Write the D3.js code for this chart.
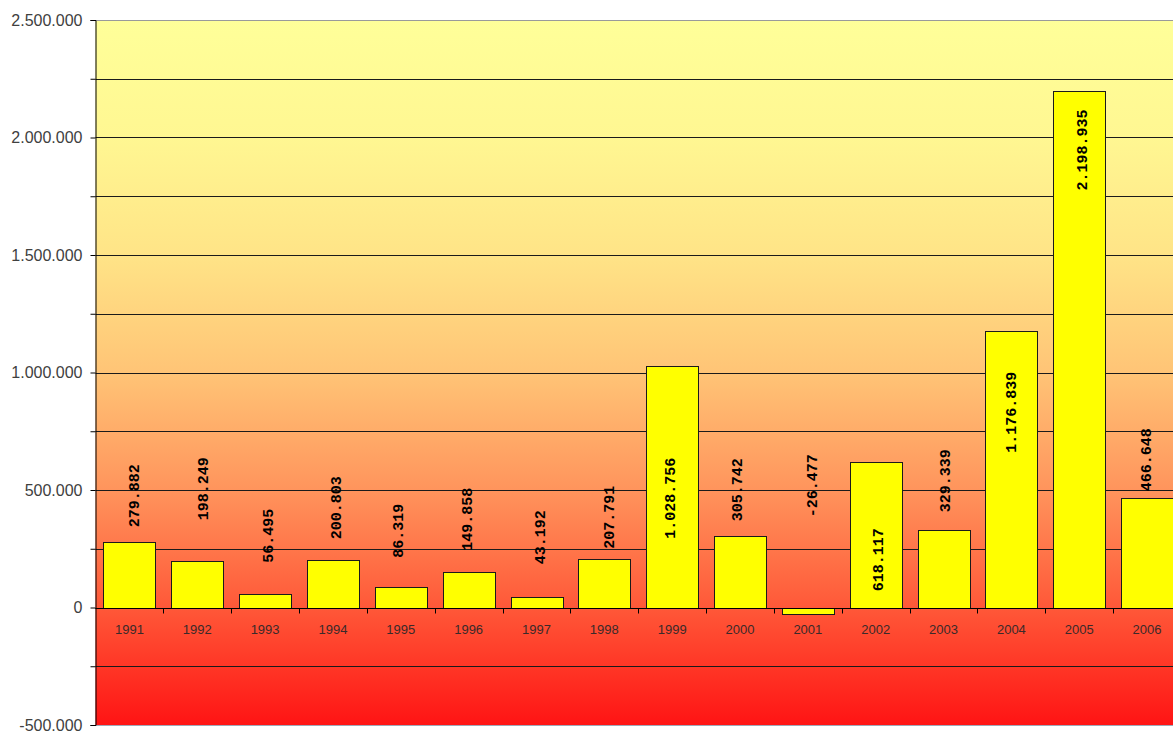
<!DOCTYPE html>
<html>
<head>
<meta charset="utf-8">
<script src="https://cdn.jsdelivr.net/npm/d3@7"></script>
<style>
  html, body { margin: 0; padding: 0; background: #ffffff; }
  svg { display: block; }
</style>
</head>
<body>
<svg id="chart" width="1173" height="731"></svg>
<script>
// Yearly values, 1991–2006
const years = ["1991", "1992", "1993", "1994", "1995", "1996", "1997", "1998",
               "1999", "2000", "2001", "2002", "2003", "2004", "2005", "2006"];
const values = [279882, 198249, 56495, 200803, 86319, 149858, 43192, 207791,
                1028756, 305742, -26477, 618117, 329339, 1176839, 2198935, 466648];
const yTicks = [-500000, -250000, 0, 250000, 500000, 750000, 1000000, 1250000,
                1500000, 1750000, 2000000, 2250000, 2500000];
const yLabelled = [-500000, 0, 500000, 1000000, 1500000, 2000000, 2500000];

// Where each value label sits (in value units along the y axis) and a small sideways nudge in px
const labelAnchor = [475700, 505500, 305000, 424600, 326700, 375600, 299000, 384000,
                     465000, 501000, 518000, 203000, 539600, 831000, 1947000, 629000];
const labelNudge = [4.5, 6, 3, 3, -2.5, -1.5, 3.8, 5, -2, -2.7, 4.5, 2.7, 2, 0, 2.5, -1];

const locale = d3.formatLocale({ decimal: ",", thousands: ".", grouping: [3],
                                 currency: ["", ""], minus: "-" });
const fmt = locale.format(",d");

const svg = d3.select("#chart");
const plotLeft = 95.5, plotTop = 20, plotBottom = 725, plotRight = 1181;

const x = d3.scaleBand().domain(years).range([plotLeft, plotRight])
  .paddingInner(0.234).paddingOuter(0.117);
const y = d3.scaleLinear().domain([-500000, 2500000]).range([plotBottom, plotTop]);

// Background gradient: pale yellow at the top to red at the bottom
const defs = svg.append("defs");
const grad = defs.append("linearGradient").attr("id", "bg")
  .attr("gradientUnits", "userSpaceOnUse")
  .attr("x1", 0).attr("x2", 0).attr("y1", plotTop).attr("y2", plotBottom);
[[0, "#FFFF99"], [0.166, "#FFF792"], [0.333, "#FFE487"], [0.5, "#FFC476"],
 [0.667, "#FF945C"], [0.834, "#FF5838"], [1, "#FF1414"]]
  .forEach(([o, c]) => grad.append("stop").attr("offset", o).attr("stop-color", c));

svg.append("rect").attr("x", plotLeft).attr("y", plotTop)
  .attr("width", plotRight - plotLeft).attr("height", plotBottom - plotTop)
  .attr("fill", "url(#bg)");

// Horizontal gridlines
svg.append("g").selectAll("line")
  .data(yTicks.filter(t => t !== 2500000 && t !== -500000))
  .join("line")
  .attr("x1", plotLeft).attr("x2", plotRight)
  .attr("y1", d => Math.round(y(d)) + 0.5).attr("y2", d => Math.round(y(d)) + 0.5)
  .attr("stroke", "#1a1a1a").attr("stroke-width", 1);

// Plot area top and bottom edges
svg.append("line").attr("x1", plotLeft).attr("x2", plotRight)
  .attr("y1", plotTop + 0.5).attr("y2", plotTop + 0.5).attr("stroke", "#9a9a9a");
svg.append("line").attr("x1", plotLeft).attr("x2", plotRight)
  .attr("y1", plotBottom + 0.5).attr("y2", plotBottom + 0.5).attr("stroke", "#a0a8b8");

// Bars
svg.append("g").selectAll("rect")
  .data(values)
  .join("rect")
  .attr("x", (d, i) => Math.round(x(years[i])) + 0.5)
  .attr("width", Math.round(x.bandwidth()))
  .attr("y", d => Math.round(y(Math.max(0, d))) + 0.5)
  .attr("height", d => Math.abs(Math.round(y(d)) - Math.round(y(0))))
  .attr("fill", "#FFFF00")
  .attr("stroke", "#1a1a1a").attr("stroke-width", 1);

// Y axis
const yAxis = d3.axisLeft(y).tickValues(yTicks).tickSize(5).tickPadding(8)
  .tickFormat(d => yLabelled.includes(d) ? fmt(d) : "");
const gy = svg.append("g").attr("transform", `translate(${plotLeft},0)`).call(yAxis);
gy.select(".domain").attr("stroke", "#000");
gy.selectAll(".tick line").attr("stroke", "#000");
gy.selectAll(".tick text")
  .attr("font-family", "'Liberation Sans', Arial, sans-serif")
  .attr("font-size", 16).attr("fill", "#404040");

// X axis along zero with ticks between categories
const zeroY = Math.round(y(0)) + 0.5;
svg.append("line").attr("x1", plotLeft).attr("x2", plotRight)
  .attr("y1", zeroY).attr("y2", zeroY).attr("stroke", "#000");
svg.append("g").selectAll("line")
  .data(years.slice(1))
  .join("line")
  .attr("x1", d => Math.round(x(d) - x.step() * x.paddingInner() / 2) + 0.5)
  .attr("x2", d => Math.round(x(d) - x.step() * x.paddingInner() / 2) + 0.5)
  .attr("y1", zeroY).attr("y2", zeroY + 5)
  .attr("stroke", "#000");
svg.append("g").selectAll("text")
  .data(years)
  .join("text")
  .attr("x", d => x(d) + x.bandwidth() / 2)
  .attr("y", zeroY + 25)
  .attr("text-anchor", "middle")
  .attr("font-family", "'Liberation Sans', Arial, sans-serif")
  .attr("font-size", 13).attr("fill", "#3a2a2a")
  .text(d => d);

// Value labels, rotated
svg.append("g").selectAll("text")
  .data(values)
  .join("text")
  .attr("transform", (d, i) =>
    `translate(${x(years[i]) + x.bandwidth() / 2 + labelNudge[i]},${y(labelAnchor[i])}) rotate(-90)`)
  .attr("dy", "0.32em")
  .attr("text-anchor", "middle")
  .attr("font-family", "'Liberation Mono', 'Courier New', monospace")
  .attr("font-weight", "bold")
  .attr("font-size", 15).attr("fill", "#000")
  .text(d => fmt(d));
</script>
</body>
</html>
